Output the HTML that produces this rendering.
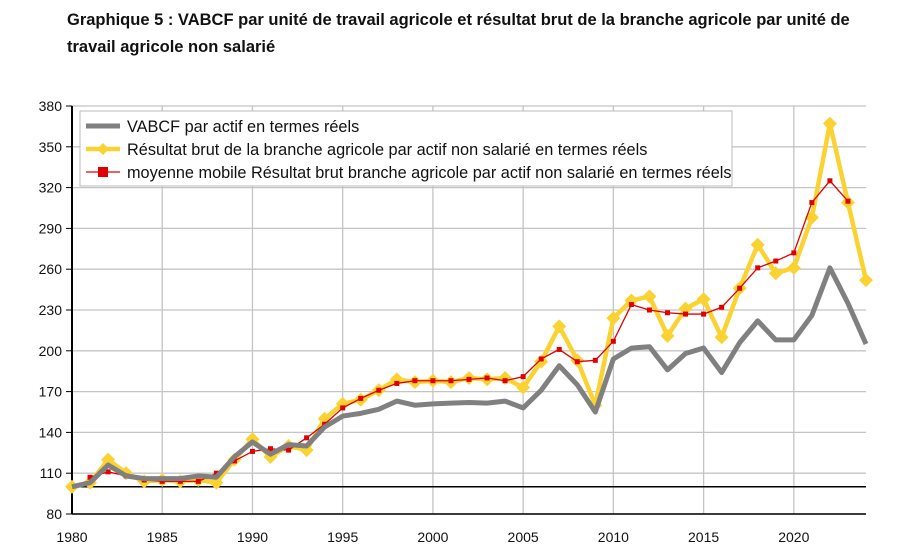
<!DOCTYPE html>
<html><head><meta charset="utf-8"><style>
body{margin:0;background:#fff;width:902px;height:553px;overflow:hidden;font-family:"Liberation Sans",sans-serif}
.t{position:absolute;left:67px;font-weight:bold;font-size:16.5px;color:#111;white-space:nowrap}
</style></head><body>
<div class="t" style="top:11px">Graphique 5 : VABCF par unité de travail agricole et résultat brut de la branche agricole par unité de</div>
<div class="t" style="top:38px">travail agricole non salarié</div>
<svg id="c" width="902" height="553" style="position:absolute;left:0;top:0"></svg>
<script>
const years=[];for(let y=1980;y<=2024;y++)years.push(y);
const yTicks=[80,110,140,170,200,230,260,290,320,350,380];
const xTicks=[1980,1985,1990,1995,2000,2005,2010,2015,2020];
const vabcf=[100,103,116,108,106,106,106,108,107,122,133,124,131,130,144,152,154,157,163,160,161,161.5,162,161.5,163,158,171,189,175,155,194,202,203,186,198,202,184,206,222,208,208,226,261,235,205];
const resultat=[100,103,120,110,104,105,104,105,103,120,135,122,130,127,150,161,164,171,179,177,178,177,180,179,180,173,192,218,193,160,224,237,240,211,231,238,210,246,278,257,261,298,367,309,252];
const mmYears=[];for(let y=1981;y<=2023;y++)mmYears.push(y);
const moyenne=[107,111,108,105,104,104,104,110,119,126,128,127,136,146,158,165,171,176,178,178,178,179,180,178,181,194,201,192,193,207,234,230,228,227,227,232,246,261,266,272,309,325,310];
const svg=document.getElementById('c');const NS='http://www.w3.org/2000/svg';
const X=y=>72+(y-1980)*(866-72)/44;
const Y=v=>514-(v-80)*408/300;
function el(t,a,p){const e=document.createElementNS(NS,t);for(const k in a)e.setAttribute(k,a[k]);(p||svg).appendChild(e);return e;}
let e;
yTicks.forEach(v=>{e=el('line',{x1:72,x2:866,y1:Y(v),y2:Y(v),stroke:'#c4c4c4','stroke-width':1.3});


e=el('line',{x1:66,x2:72,y1:Y(v),y2:Y(v),stroke:'#000'});


e=el('text',{x:62,y:Y(v)+5,'text-anchor':'end','font-size':14,fill:'#111'});e.textContent=v;

});
xTicks.forEach(v=>{if(v>1980){e=el('line',{x1:X(v),x2:X(v),y1:106,y2:514,stroke:'#c4c4c4','stroke-width':1.3});

}
e=el('text',{x:X(v),y:542,'text-anchor':'middle','font-size':14,fill:'#111'});e.textContent=v;

});
e=el('line',{x1:72,x2:72,y1:106,y2:514,stroke:'#000','stroke-width':2});


e=el('line',{x1:72,x2:866,y1:514,y2:514,stroke:'#000','stroke-width':1.5});


e=el('line',{x1:72,x2:866,y1:Y(100),y2:Y(100),stroke:'#000','stroke-width':1.5});


const pts=(xs,vs)=>vs.map((v,i)=>X(xs[i])+','+Y(v)).join(' ');
e=el('polyline',{points:pts(years,resultat),fill:'none',stroke:'#fad232','stroke-width':4.5,'stroke-linejoin':'round'});


resultat.forEach((v,i)=>{const x=X(years[i]),y=Y(v);e=el('polygon',{points:`${x},${y-7} ${x+7},${y} ${x},${y+7} ${x-7},${y}`,fill:'#fad232'});

});
e=el('polyline',{points:pts(mmYears,moyenne),fill:'none',stroke:'#e00000','stroke-width':1.3});


moyenne.forEach((v,i)=>{e=el('rect',{x:X(mmYears[i])-2.5,y:Y(v)-2.5,width:5,height:5,fill:'#e00000'});

});
e=el('polyline',{points:pts(years,vabcf),fill:'none',stroke:'#808080','stroke-width':5,'stroke-linejoin':'round'});


const lg=el('g',{});


el('rect',{x:80,y:111,width:652,height:75,fill:'#fff',stroke:'#bbb'},lg);
const items=[['VABCF par actif en termes réels','g'],['Résultat brut de la branche agricole par actif non salarié en termes réels','y'],['moyenne mobile Résultat brut branche agricole par actif non salarié en termes réels','r']];
items.forEach((it,i)=>{const cy=126+i*23;
if(it[1]=='g')el('line',{x1:86,x2:120,y1:cy,y2:cy,stroke:'#808080','stroke-width':5},lg);
if(it[1]=='y'){el('line',{x1:86,x2:120,y1:cy,y2:cy,stroke:'#fad232','stroke-width':4.5},lg);el('polygon',{points:`103,${cy-6} 109,${cy} 103,${cy+6} 97,${cy}`,fill:'#fad232'},lg);}
if(it[1]=='r'){el('line',{x1:86,x2:120,y1:cy,y2:cy,stroke:'#e00000','stroke-width':1.3},lg);el('rect',{x:98,y:cy-5,width:10,height:10,fill:'#e00000'},lg);}
e=el('text',{x:127,y:cy+6,'font-size':16.3,fill:'#111'},lg);e.textContent=it[0];

});
</script>
</body></html>
